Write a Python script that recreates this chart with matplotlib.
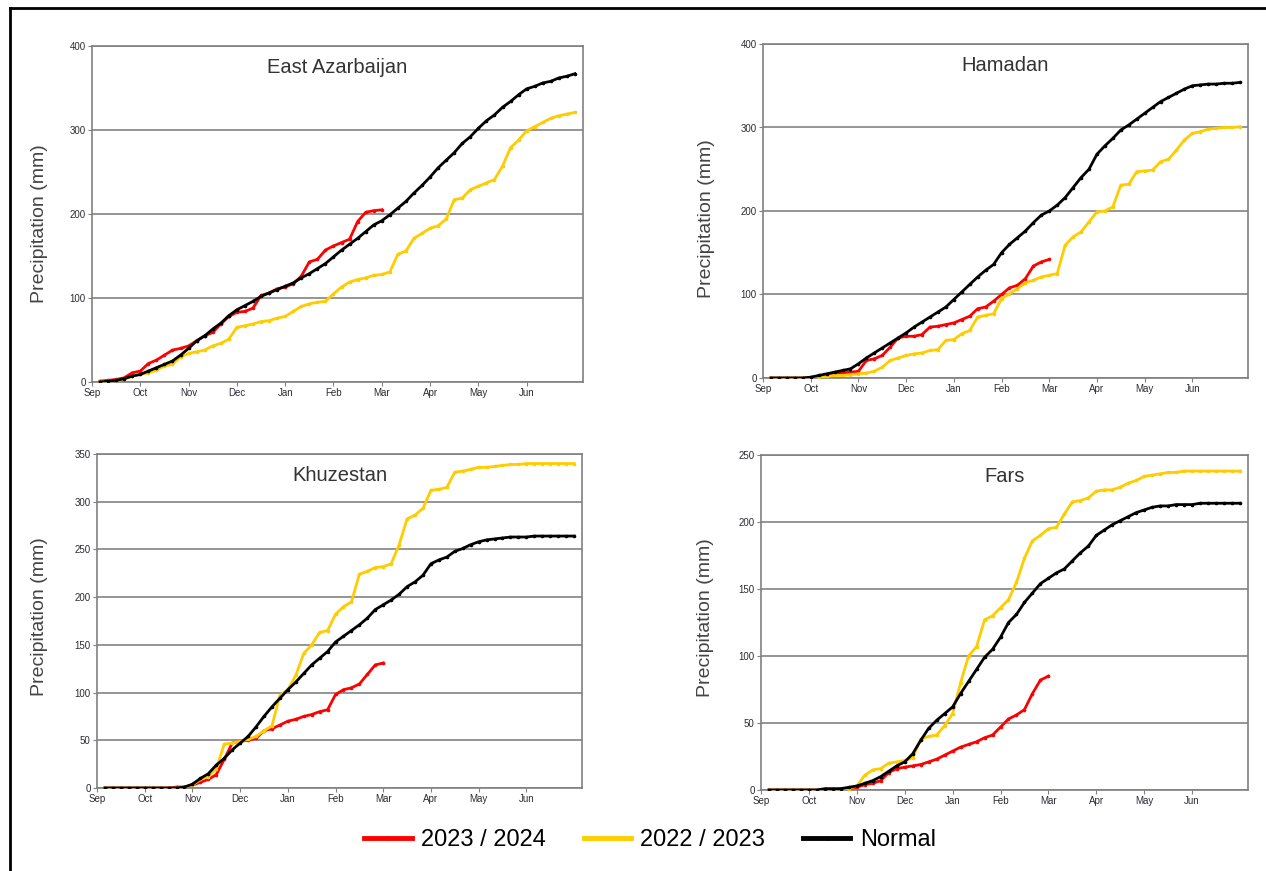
import matplotlib
matplotlib.use('Agg')
import matplotlib.pyplot as plt
import numpy as np
from matplotlib.lines import Line2D

plt.rcParams['font.family'] = ['Liberation Sans', 'DejaVu Sans']

months = ['Sep', 'Oct', 'Nov', 'Dec', 'Jan', 'Feb', 'Mar', 'Apr', 'May', 'Jun']
series_labels = ['2023 / 2024', '2022 / 2023', 'Normal']
series_colors = ['#ff0000', '#ffcc00', '#000000']

# cumulative precipitation (mm), one value per pentad starting in September
east_az_2324 = [1, 2, 3, 5, 11, 13, 22, 26, 32, 38, 40, 43, 49, 55, 59, 69, 78, 83,
                84, 88, 103, 106, 111, 113, 117, 126, 143, 146, 157, 162,
                166, 170, 191, 202, 204, 205]
east_az_2223 = [0, 1, 2, 3, 7, 9, 11, 14, 19, 21, 30, 34, 36, 38, 43, 46, 51, 65,
                67, 69, 72, 73, 76, 78, 84, 90, 93, 95, 96, 105,
                113, 119, 122, 124, 127, 128, 131, 152, 156, 171, 177, 183,
                186, 194, 217, 219, 229, 233, 237, 241, 257, 279, 288, 299,
                304, 309, 314, 317, 319, 321]
east_az_normal = [0, 1, 2, 4, 7, 9, 13, 17, 21, 25, 32, 40, 49, 55, 63, 70, 79, 86,
                  91, 96, 102, 106, 110, 114, 118, 124, 129, 135, 141, 149,
                  157, 164, 171, 179, 187, 192, 199, 207, 215, 225, 234, 244,
                  255, 264, 273, 284, 292, 302, 311, 318, 327, 334, 342, 349,
                  352, 356, 358, 362, 364, 367]

hamadan_2324 = [0, 0, 0, 0, 0, 0, 2, 4, 5, 6, 7, 8, 21, 23, 27, 37, 48, 50,
                50, 52, 61, 62, 64, 66, 70, 74, 83, 85, 92, 100,
                108, 111, 119, 134, 139, 142]
hamadan_2223 = [0, 0, 0, 0, 0, 0, 1, 2, 3, 3, 4, 5, 6, 8, 13, 21, 24, 27,
                29, 30, 33, 34, 45, 46, 53, 57, 73, 75, 77, 95,
                101, 107, 114, 117, 121, 123, 125, 159, 169, 175, 187, 199,
                200, 205, 231, 232, 247, 248, 249, 259, 262, 273, 285, 293,
                295, 298, 299, 300, 300, 301]
hamadan_normal = [0, 0, 0, 0, 0, 1, 3, 5, 7, 9, 11, 17, 24, 30, 36, 42, 48, 54,
                  61, 67, 73, 79, 85, 94, 103, 112, 121, 129, 136, 150,
                  160, 168, 176, 186, 195, 200, 207, 216, 228, 240, 250, 268,
                  278, 287, 297, 303, 310, 317, 324, 331, 336, 341, 346, 350,
                  351, 352, 352, 353, 353, 354]

khuzestan_2324 = [0, 0, 0, 0, 0, 0, 0, 0, 0, 1, 1, 3, 6, 9, 14, 30, 47, 49,
                  50, 52, 60, 62, 66, 70, 72, 75, 77, 80, 82, 98,
                  103, 105, 109, 119, 129, 131]
khuzestan_2223 = [0, 0, 0, 0, 0, 0, 0, 0, 0, 0, 1, 3, 9, 12, 20, 46, 47, 49,
                  51, 54, 60, 65, 97, 103, 118, 141, 150, 163, 165, 182,
                  190, 195, 224, 227, 231, 232, 235, 255, 282, 286, 293, 312,
                  313, 315, 331, 332, 334, 336, 336, 337, 338, 339, 339, 340,
                  340, 340, 340, 340, 340, 340]
khuzestan_normal = [0, 0, 0, 0, 0, 0, 0, 0, 0, 0, 1, 4, 10, 15, 24, 31, 40, 47,
                    54, 64, 75, 85, 94, 103, 111, 120, 129, 136, 143, 153,
                    159, 165, 171, 178, 187, 192, 197, 203, 211, 216, 223, 235,
                    239, 242, 248, 251, 255, 258, 260, 261, 262, 263, 263, 263,
                    264, 264, 264, 264, 264, 264]

fars_2324 = [0, 0, 0, 0, 0, 0, 0, 0, 0, 1, 1, 2, 4, 5, 7, 13, 16, 17,
             18, 19, 21, 23, 26, 29, 32, 34, 36, 39, 41, 47,
             53, 56, 60, 72, 82, 85]
fars_2223 = [0, 0, 0, 0, 0, 0, 0, 0, 0, 1, 1, 3, 11, 15, 16, 20, 21, 22,
             24, 38, 40, 41, 48, 57, 80, 100, 107, 127, 130, 136,
             142, 155, 173, 186, 190, 195, 196, 206, 215, 216, 218, 223,
             224, 224, 226, 229, 231, 234, 235, 236, 237, 237, 238, 238,
             238, 238, 238, 238, 238, 238]
fars_normal = [0, 0, 0, 0, 0, 0, 0, 1, 1, 1, 2, 3, 5, 7, 10, 14, 18, 21,
               27, 37, 46, 52, 57, 62, 72, 81, 90, 99, 105, 114,
               125, 131, 140, 147, 154, 158, 162, 165, 171, 177, 182, 190,
               194, 198, 201, 204, 207, 209, 211, 212, 212, 213, 213, 213,
               214, 214, 214, 214, 214, 214]

provinces = ['East Azarbaijan', 'Hamadan', 'Khuzestan', 'Fars']
y_max = [400, 400, 350, 250]
y_step = [100, 100, 50, 50]

panel_series = [
    [east_az_2324, east_az_2223, east_az_normal],
    [hamadan_2324, hamadan_2223, hamadan_normal],
    [khuzestan_2324, khuzestan_2223, khuzestan_normal],
    [fars_2324, fars_2223, fars_normal],
]

W, H = 1266, 871
fig = plt.figure(figsize=(W / 100, H / 100), dpi=100)
fig.patch.set_facecolor('white')

# panel boxes in pixels: left, top, right, bottom
boxes = [(92, 46, 583, 382), (763, 44, 1248, 378),
         (97, 454, 582, 788), (761, 455, 1248, 790)]
ylabel_pos = [(-0.090, 0.47), (-0.099, 0.476), (-0.101, 0.512), (-0.0965, 0.516)]

tick_font = {'family': ['Liberation Sans Narrow', 'Liberation Sans', 'DejaVu Sans'],
             'size': 7}

for i, name in enumerate(provinces):
    l, t, r, b = boxes[i]
    ax = fig.add_axes([l / W, 1 - b / H, (r - l) / W, (b - t) / H])
    for vals, col in zip(panel_series[i], series_colors):
        x = np.arange(1, len(vals) + 1)
        ax.plot(x, vals, color=col, lw=2.0, marker='o', ms=1.6, zorder=3)
    ax.set_xlim(0, 61)
    ax.set_ylim(0, y_max[i])
    ax.set_xticks(np.arange(0, 60, 6))
    ax.set_xticklabels(months, fontdict=tick_font, color='#2e2a33')
    yt = np.arange(0, y_max[i] + 1, y_step[i])
    ax.set_yticks(yt)
    ax.set_yticklabels([str(v) for v in yt], fontdict=tick_font, color='#2e2a33')
    ax.tick_params(length=3, width=0.8, color='#808080', pad=1.5)
    ax.yaxis.grid(True, color='#8c8c8c', lw=1.3)
    ax.set_axisbelow(True)
    for sp in ax.spines.values():
        sp.set_color('#808080')
        sp.set_linewidth(1.2)
    ax.set_ylabel('Precipitation (mm)', fontsize=14, color='#444444')
    ax.yaxis.set_label_coords(*ylabel_pos[i])
    ax.text(0.5, 0.937, name, transform=ax.transAxes, ha='center', va='center',
            fontsize=14.5, color='#333333')

handles = [Line2D([], [], color=c, lw=3.5, marker='o', ms=2) for c in series_colors]
fig.legend(handles, series_labels, loc='center', bbox_to_anchor=(650 / W, 1 - 840 / H),
           ncol=3, frameon=False, fontsize=17, handlelength=2.0, handletextpad=0.4,
           columnspacing=1.6, numpoints=1)

# frame edges along the left and top
fig.add_artist(Line2D([10 / W, 10 / W], [0, 1 - 8 / H], color='black', lw=2,
                      transform=fig.transFigure))
fig.add_artist(Line2D([10 / W, 1], [1 - 8 / H, 1 - 8 / H], color='black', lw=2,
                      transform=fig.transFigure))

fig.savefig('out.png', dpi=100, facecolor='white')
